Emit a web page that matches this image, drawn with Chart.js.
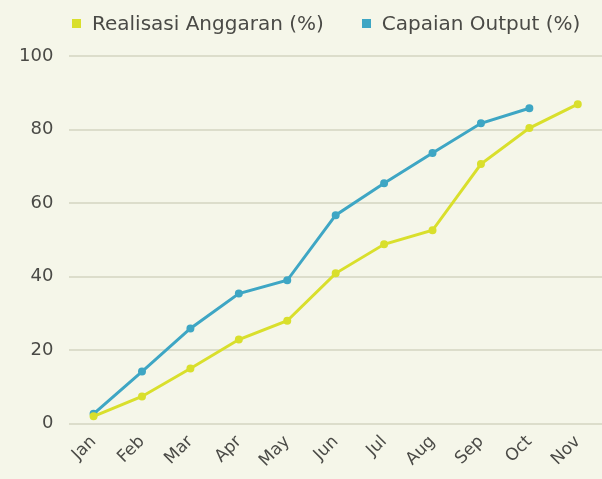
<!DOCTYPE html>
<html>
<head>
<meta charset="utf-8">
<script src="https://cdn.jsdelivr.net/npm/chart.js@4"></script>
<style>
html,body{margin:0;padding:0;background:#f5f6e9;}
#wrap{width:602px;height:479px;position:relative;}
#legend{position:absolute;left:72px;top:11px;display:flex;align-items:center;font-family:'DejaVu Sans',sans-serif;font-size:20px;color:#4a4a46;white-space:nowrap;}
#legend .item{display:flex;align-items:center;}
#legend .item + .item{margin-left:38px;}
#legend .box{width:9px;height:9px;margin-right:11px;}
</style>
</head>
<body>
<div id="wrap"><canvas id="c" width="602" height="479"></canvas><div id="legend"></div></div>
<script>
const months = ["Jan","Feb","Mar","Apr","May","Jun","Jul","Aug","Sep","Oct","Nov"];
const realisasiAnggaran = [2, 7.4, 15, 22.9, 28, 40.9, 48.8, 52.6, 70.6, 80.4, 86.9];
const capaianOutput = [2.7, 14.2, 25.9, 35.4, 39, 56.7, 65.4, 73.6, 81.7, 85.8, null];
const yTicks = [0, 20, 40, 60, 80, 100];

const yellow = "#d9df2c";
const blue = "#3ea6c4";
const textColor = "#4a4a46";
const gridColor = "#dcddcb";
const fontFamily = "'DejaVu Sans', sans-serif";

const htmlLegend = {
  id: "htmlLegend",
  afterUpdate(chart) {
    const el = document.getElementById("legend");
    el.innerHTML = "";
    chart.data.datasets.forEach(d => {
      const item = document.createElement("div");
      item.className = "item";
      const box = document.createElement("span");
      box.className = "box";
      box.style.background = d.borderColor;
      const txt = document.createElement("span");
      txt.textContent = d.label;
      item.appendChild(box); item.appendChild(txt);
      el.appendChild(item);
    });
  }
};

new Chart(document.getElementById("c"), {
  type: "line",
  data: {
    labels: months,
    datasets: [
      {label: "Realisasi Anggaran (%)", data: realisasiAnggaran, borderColor: yellow, backgroundColor: yellow,
       borderWidth: 3, pointRadius: 2.5, pointHoverRadius: 2.5, tension: 0},
      {label: "Capaian Output (%)", data: capaianOutput, borderColor: blue, backgroundColor: blue,
       borderWidth: 3, pointRadius: 2.5, pointHoverRadius: 2.5, tension: 0}
    ]
  },
  options: {
    responsive: false,
    animation: false,
    layout: {autoPadding: false, padding: {left: 3, right: 0, top: 56, bottom: 0}},
    plugins: {
      tooltip: {enabled: false},
      legend: {display: false}
    },
    scales: {
      x: {
        offset: true,
        afterFit(axis) { axis.paddingRight = 0; },
        grid: {display: false, drawTicks: false},
        border: {display: false},
        ticks: {color: textColor, font: {family: fontFamily, size: 17}, maxRotation: 45, minRotation: 45, padding: 8}
      },
      y: {
        min: 0, max: 100,
        afterBuildTicks(axis) { axis.ticks = yTicks.map(v => ({value: v})); },
        grid: {color: gridColor, lineWidth: 2, drawTicks: false},
        border: {display: false},
        ticks: {color: textColor, font: {family: fontFamily, size: 18}, padding: 16}
      }
    }
  },
  plugins: [htmlLegend, {
    id: "bg",
    beforeDraw(chart) {
      const ctx = chart.ctx;
      ctx.save();
      ctx.fillStyle = "#f5f6e9";
      ctx.fillRect(0, 0, chart.width, chart.height);
      ctx.restore();
    }
  }]
});
</script>
</body>
</html>
